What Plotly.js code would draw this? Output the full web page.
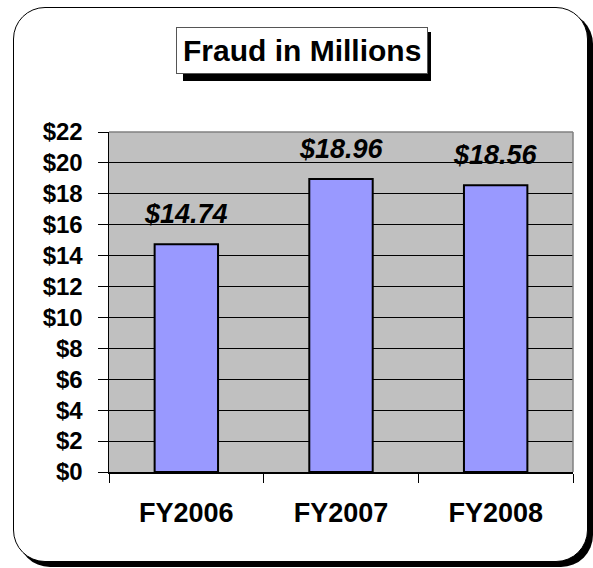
<!DOCTYPE html>
<html>
<head>
<meta charset="utf-8">
<script src="https://cdn.plot.ly/plotly-3.0.1.min.js"></script>
<style>
  html, body { margin: 0; padding: 0; background: #ffffff; }
  #frame { position: absolute; left: 13px; top: 7px; width: 573px; height: 553px;
           border: 1.5px solid #000; border-radius: 32px; box-shadow: 5px 5px 0 #000; background: #fff; }
  #chart { position: absolute; left: 0; top: 0; width: 593px; height: 568px; }
</style>
</head>
<body>
<div id="frame"></div>
<div id="chart"></div>
<script>
const categories = ["FY2006", "FY2007", "FY2008"];
const fraudMillions = [14.74, 18.96, 18.56];
const dataLabels = ["$14.74", "$18.96", "$18.56"];
const yTickValues = [0, 2, 4, 6, 8, 10, 12, 14, 16, 18, 20, 22];
const yTickLabels = ["$0", "$2", "$4", "$6", "$8", "$10", "$12", "$14", "$16", "$18", "$20", "$22"];
const chartTitle = "Fraud in Millions";

const FONT = "Liberation Sans, Arial, sans-serif";

const trace = {
  type: "bar",
  x: categories,
  y: fraudMillions,
  marker: { color: "#9999ff", line: { color: "#000000", width: 2 } },
  width: 0.41,
  hoverinfo: "x+y"
};

const annotations = categories.map((c, i) => ({
  x: c, y: fraudMillions[i], xref: "x", yref: "y",
  text: "<b><i>" + dataLabels[i] + "</i></b>",
  showarrow: false, yanchor: "bottom", yshift: 13,
  font: { family: FONT, size: 27, color: "#000", weight: "bold" }
}));

annotations.push({
  xref: "paper", yref: "paper",
  x: (302 - 109) / 464, y: (472 - 50.5) / 340,
  xanchor: "center", yanchor: "middle",
  text: "<b>" + chartTitle + "</b>",
  showarrow: false,
  bgcolor: "#ffffff", bordercolor: "#555555", borderwidth: 1, borderpad: 6,
  font: { family: FONT, size: 30, color: "#000", weight: "bold" }
});

const px = v => (v - 109) / 464;
const py = v => (472 - v) / 340;

const layout = {
  width: 593, height: 568,
  margin: { l: 109, r: 20, t: 132, b: 96 },
  paper_bgcolor: "rgba(0,0,0,0)",
  plot_bgcolor: "#c0c0c0",
  showlegend: false,
  bargap: 0.59,
  font: { family: FONT, color: "#000" },
  xaxis: {
    type: "category",
    tickfont: { family: FONT, size: 27, color: "#000", weight: "bold" },
    ticks: "outside", ticklen: 9, tickcolor: "#000", tickwidth: 1,
    tickson: "boundaries",
    ticklabelstandoff: 16,
    showline: true, linecolor: "#000", linewidth: 1.5,
    showgrid: false, zeroline: false
  },
  yaxis: {
    range: [0, 22],
    tickvals: yTickValues, ticktext: yTickLabels,
    tickfont: { family: FONT, size: 24, color: "#000", weight: "bold" },
    ticks: "outside", ticklen: 10, tickcolor: "#000", tickwidth: 1,
    ticklabelstandoff: 10,
    showline: true, linecolor: "#000", linewidth: 1.5,
    showgrid: true, gridcolor: "#000", gridwidth: 1,
    zeroline: false
  },
  shapes: [
    { type: "rect", xref: "paper", yref: "paper",
      x0: px(183), x1: px(431), y0: py(32), y1: py(81),
      fillcolor: "#000", line: { width: 0 }, layer: "below" },
    { type: "line", xref: "paper", yref: "paper", x0: 0, x1: 1, y0: 1, y1: 1,
      line: { color: "#808080", width: 1.5 } },
    { type: "line", xref: "paper", yref: "paper", x0: 1, x1: 1, y0: 0, y1: 1,
      line: { color: "#808080", width: 1.5 } }
  ],
  annotations: annotations
};

Plotly.newPlot("chart", [trace], layout, { displayModeBar: false, staticPlot: true });
</script>
</body>
</html>
